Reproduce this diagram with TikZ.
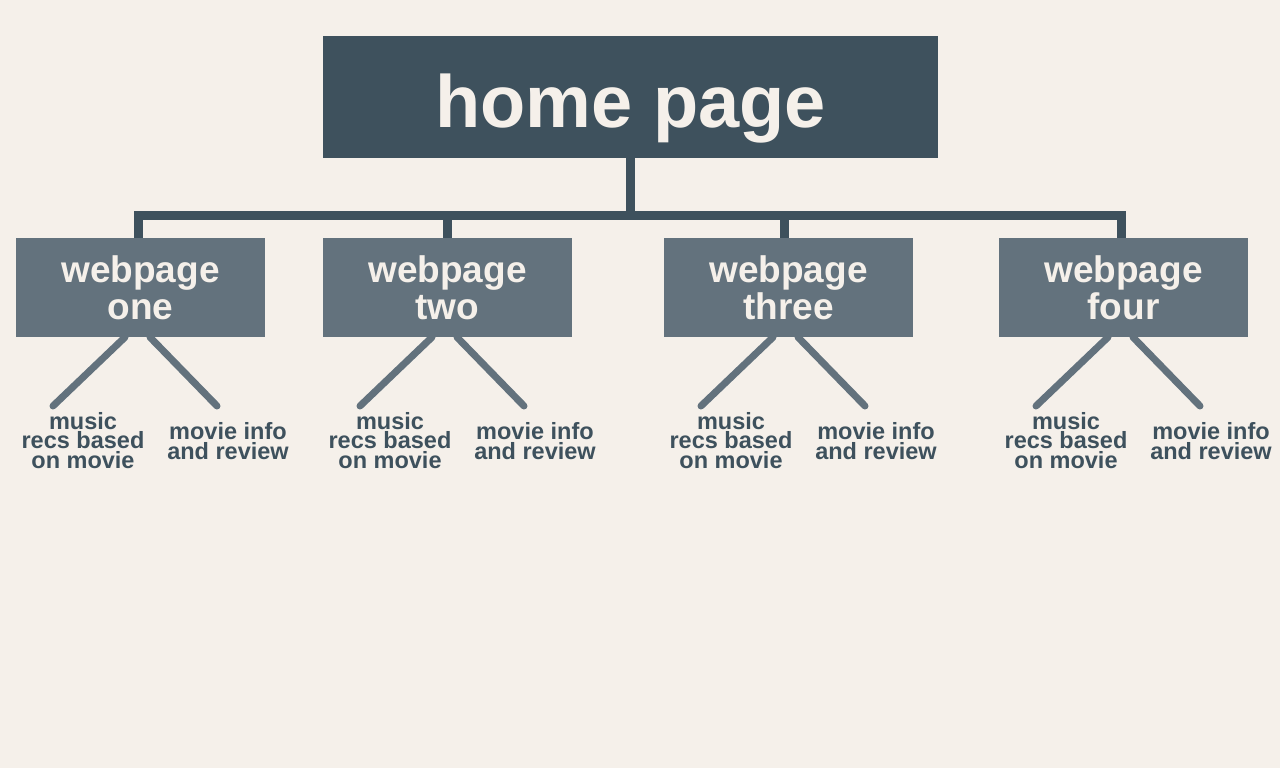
\documentclass[tikz,border=0pt]{standalone}
\usepackage{fontspec}
\setmainfont{Liberation Sans}
\usetikzlibrary{calc}
\definecolor{paper}{HTML}{F5F0EA}
\definecolor{slate}{HTML}{3E515D}
\definecolor{steel}{HTML}{63727D}
\begin{document}
\begin{tikzpicture}[x={(1pt,0pt)}, y={(0pt,-1pt)},
  homebox/.style={fill=slate, minimum width=615, minimum height=122, inner sep=0,
    text=paper, text height=62, text depth=0,
    font=\bfseries\fontsize{74}{74}\selectfont},
  pagebox/.style={fill=steel, minimum width=249, minimum height=99, inner sep=0,
    text=paper, align=center, font=\bfseries\fontsize{37}{37}\selectfont},
  trunk/.style={draw=slate, line width=9},
  branch/.style={draw=steel, line width=7, line cap=round},
  leaf/.style={text=slate, align=center, inner sep=0,
    font=\bfseries\fontsize{23.5}{19.5}\selectfont}]

  % canvas
  \fill[paper] (0,0) rectangle (1280,768);
  \useasboundingbox (0,0) rectangle (1280,768);

  % root
  \node[homebox] (home) at (630.5,97) {home page};
  \coordinate (bar) at (630,215.5);

  % pages with their two sub-pages
  \foreach \i/\L/\T in {1/16/one, 2/323/two, 3/664/three, 4/999/four} {
    \node[pagebox] (p\i) at (\L+124.5,287.5) {webpage\\\T};
    \node[leaf] (m\i) at (\L+67,440.5) {music\\recs based\\on movie};
    \node[leaf] (v\i) at (\L+212,441) {movie info\\and review};
    \coordinate (mt\i) at (\L+37,406);
    \coordinate (vt\i) at (\L+201,406);
    \draw[branch] ([xshift=-15.5]p\i.south) -- (mt\i);
    \draw[branch] ([xshift=9.5]p\i.south) -- (vt\i);
  }

  % tree trunk
  \draw[trunk] (bar |- home.south) -- (bar);
  \draw[trunk] ([xshift=-2.5]p1.north) |- (bar) -| ([xshift=-2.5]p4.north);
  \draw[trunk] ([xshift=-0.5]p2.north) -- ([xshift=-0.5]p2.north |- bar);
  \draw[trunk] ([xshift=-4.5]p3.north) -- ([xshift=-4.5]p3.north |- bar);
\end{tikzpicture}
\end{document}
